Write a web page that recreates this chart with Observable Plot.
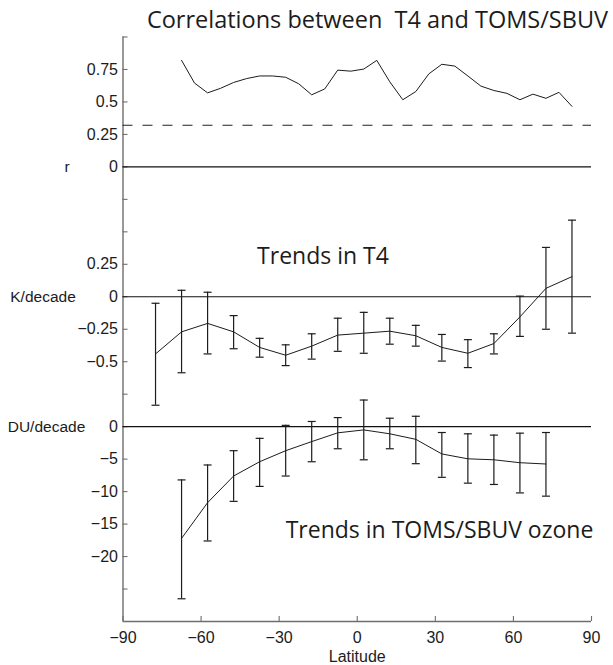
<!DOCTYPE html>
<html>
<head>
<meta charset="utf-8">
<script src="https://cdn.jsdelivr.net/npm/d3@7"></script>
<script src="https://cdn.jsdelivr.net/npm/@observablehq/plot@0.6"></script>
<style>
  html, body { margin: 0; padding: 0; background: #fff; }
  #chart svg { display: block; }
</style>
</head>
<body>
<div id="chart"></div>
<script>
// ---------------- Data ----------------
// Panel 1: correlations between T4 and TOMS/SBUV
const corrLat = [-67.5, -62.5, -57.5, -52.5, -47.5, -42.5, -37.5, -32.5, -27.5, -22.5, -17.5, -12.5, -7.5, -2.5, 2.5, 7.5, 12.5, 17.5, 22.5, 27.5, 32.5, 37.5, 42.5, 47.5, 52.5, 57.5, 62.5, 67.5, 72.5, 77.5, 82.5];
const corrR = [0.82, 0.645, 0.57, 0.605, 0.65, 0.68, 0.70, 0.70, 0.69, 0.64, 0.555, 0.60, 0.745, 0.737, 0.753, 0.82, 0.655, 0.517, 0.58, 0.716, 0.79, 0.776, 0.70, 0.622, 0.588, 0.566, 0.517, 0.56, 0.528, 0.574, 0.466];
const corrSignificance = 0.32;

// Panel 2: trends in T4 (K/decade) with error bars
const t4Lat = [-77.5, -67.5, -57.5, -47.5, -37.5, -27.5, -17.5, -7.5, 2.5, 12.5, 22.5, 32.5, 42.5, 52.5, 62.5, 72.5, 82.5];
const t4Trend = [-0.44, -0.27, -0.205, -0.27, -0.39, -0.45, -0.38, -0.295, -0.28, -0.265, -0.30, -0.39, -0.435, -0.36, -0.155, 0.065, 0.155];
const t4High = [-0.05, 0.05, 0.035, -0.145, -0.32, -0.37, -0.285, -0.165, -0.12, -0.165, -0.22, -0.29, -0.33, -0.285, 0.005, 0.38, 0.59];
const t4Low = [-0.835, -0.585, -0.44, -0.40, -0.465, -0.53, -0.48, -0.42, -0.435, -0.365, -0.38, -0.495, -0.545, -0.44, -0.305, -0.25, -0.28];

// Panel 3: trends in TOMS/SBUV ozone (DU/decade) with error bars
const ozLat = [-67.5, -57.5, -47.5, -37.5, -27.5, -17.5, -7.5, 2.5, 12.5, 22.5, 32.5, 42.5, 52.5, 62.5, 72.5];
const ozTrend = [-17.2, -11.7, -7.6, -5.4, -3.7, -2.3, -0.95, -0.5, -1.1, -1.95, -4.2, -4.95, -5.1, -5.55, -5.75];
const ozHigh = [-8.2, -5.9, -3.7, -1.8, 0.2, 0.8, 1.4, 4.1, 1.3, 1.6, -0.9, -1.1, -1.3, -1.0, -0.9];
const ozLow = [-26.5, -17.6, -11.5, -9.2, -7.6, -5.4, -3.4, -5.1, -3.4, -5.7, -7.8, -8.7, -8.9, -10.2, -10.7];

// Tick values and labels (per panel, in panel units)
const rTicks = [1, 0.75, 0.5, 0.25, 0, -0.25, -0.5];
const rTickLabels = [[0.75, "0.75"], [0.5, "0.5"], [0.25, "0.25"], [0, "0"]];
const kTicks = [0.25, 0, -0.25, -0.5, -0.75];
const kTickLabels = [[0.25, "0.25"], [0, "0"], [-0.25, "\u22120.25"], [-0.5, "\u22120.5"]];
const duTicks = [0, -5, -10, -15, -20, -25];
const duTickLabels = [[0, "0"], [-5, "\u22125"], [-10, "\u221210"], [-15, "\u221215"], [-20, "\u221220"]];
const latTicks = [-90, -60, -30, 0, 30, 60, 90];
const latTickLabels = ["\u221290", "\u221260", "\u221230", "0", "30", "60", "90"];

const titleText = "Correlations between  T4 and TOMS/SBUV";
const t4Title = "Trends in T4";
const ozTitle = "Trends in TOMS/SBUV ozone";
const unitLabels = ["r", "K/decade", "DU/decade"];
const xLabel = "Latitude";

// ---------------- Shared stacked y coordinate ----------------
// The three panels share one vertical axis; each panel's values are mapped
// onto it with an offset and a unit factor.
const panel = {
  r:  {offset: 0,  factor: 1},
  k:  {offset: -1, factor: 1},
  du: {offset: -2, factor: 1 / 20}
};
const Y = (p, v) => panel[p].offset + v * panel[p].factor;
const yDomain = [-3.5, 1];

const corr = corrLat.map((lat, i) => ({lat, y: Y("r", corrR[i])}));
const t4 = t4Lat.map((lat, i) => ({lat, y: Y("k", t4Trend[i]), hi: Y("k", t4High[i]), lo: Y("k", t4Low[i])}));
const oz = ozLat.map((lat, i) => ({lat, y: Y("du", ozTrend[i]), hi: Y("du", ozHigh[i]), lo: Y("du", ozLow[i])}));

const allTicks = [
  ...rTicks.map(v => Y("r", v)),
  ...kTicks.map(v => Y("k", v)),
  ...duTicks.map(v => Y("du", v))
];
const tickLabelRows = [
  ...rTickLabels.map(([v, label]) => ({y: Y("r", v), label})),
  ...kTickLabels.map(([v, label]) => ({y: Y("k", v), label})),
  ...duTickLabels.map(([v, label]) => ({y: Y("du", v), label}))
];
const zeroLines = [Y("r", 0), Y("k", 0), Y("du", 0)];
const latLabelRows = latTicks.map((lat, i) => ({lat, label: latTickLabels[i]}));

const capSymbol = {draw(ctx) { ctx.moveTo(-4, 0); ctx.lineTo(4, 0); }};

const axisGray = "#6e6e6e";
const ink = "#1c1c1c";
const tickFont = "Liberation Sans, Arial, sans-serif";
const titleFont = "Open Sans, Noto Sans, sans-serif";

const chart = Plot.plot({
  width: 613,
  height: 665,
  marginLeft: 122.5,
  marginRight: 22,
  marginTop: 36.5,
  marginBottom: 44,
  style: {background: "#fff", fontFamily: tickFont, color: ink},
  x: {domain: [-90, 90]},
  y: {domain: yDomain},
  marks: [
    // axis lines
    Plot.ruleX([-90], {stroke: axisGray, strokeWidth: 1.4}),
    Plot.ruleY([yDomain[0]], {stroke: axisGray, strokeWidth: 1.4}),
    // inward ticks
    Plot.axisY({ticks: allTicks, tickSize: 5, dx: 5, fill: "none", stroke: axisGray, strokeWidth: 1.1, label: null}),
    Plot.axisX({ticks: latTicks, tickSize: 5, dy: -5, fill: "none", stroke: axisGray, strokeWidth: 1.1, label: null}),
    // tick labels
    Plot.text(tickLabelRows, {y: "y", text: "label", frameAnchor: "left", textAnchor: "end", dx: -5, fontSize: 16, fill: ink}),
    Plot.text(latLabelRows, {x: "lat", text: "label", frameAnchor: "bottom", lineAnchor: "middle", dy: 16, fontSize: 16, fill: ink}),
    Plot.text([xLabel], {frameAnchor: "bottom", lineAnchor: "middle", dy: 35, fontSize: 16, fill: ink}),
    // unit labels
    Plot.text([unitLabels[0]], {y: () => Y("r", 0), frameAnchor: "left", textAnchor: "middle", dx: -56, fontSize: 15.5, fill: ink}),
    Plot.text([unitLabels[1]], {y: () => Y("k", 0), frameAnchor: "left", textAnchor: "middle", dx: -80, fontSize: 15.5, fill: ink}),
    Plot.text([unitLabels[2]], {y: () => Y("du", 0), frameAnchor: "left", textAnchor: "middle", dx: -76.5, fontSize: 15.5, fill: ink}),
    // reference lines
    Plot.ruleY(zeroLines, {stroke: "#111", strokeWidth: 1.1}),
    Plot.ruleY([Y("r", corrSignificance)], {stroke: "#222", strokeWidth: 1.1, strokeDasharray: "10,10"}),
    // panel 1
    Plot.line(corr, {x: "lat", y: "y", stroke: ink, strokeWidth: 1}),
    // panel 2
    Plot.ruleX(t4, {x: "lat", y1: "lo", y2: "hi", stroke: ink, strokeWidth: 1.2}),
    Plot.dot(t4, {x: "lat", y: "hi", symbol: capSymbol, stroke: ink, strokeWidth: 1.2, fill: "none"}),
    Plot.dot(t4, {x: "lat", y: "lo", symbol: capSymbol, stroke: ink, strokeWidth: 1.2, fill: "none"}),
    Plot.line(t4, {x: "lat", y: "y", stroke: ink, strokeWidth: 1}),
    // panel 3
    Plot.ruleX(oz, {x: "lat", y1: "lo", y2: "hi", stroke: ink, strokeWidth: 1.2}),
    Plot.dot(oz, {x: "lat", y: "hi", symbol: capSymbol, stroke: ink, strokeWidth: 1.2, fill: "none"}),
    Plot.dot(oz, {x: "lat", y: "lo", symbol: capSymbol, stroke: ink, strokeWidth: 1.2, fill: "none"}),
    Plot.line(oz, {x: "lat", y: "y", stroke: ink, strokeWidth: 1}),
    // titles
    Plot.text([titleText], {frameAnchor: "top-left", dx: 254.5, dy: -16.5, textAnchor: "middle", lineAnchor: "middle", fontFamily: titleFont, fontSize: 23.5, fill: ink}),
    Plot.text([t4Title], {frameAnchor: "top-left", dx: 200, dy: 219.5, textAnchor: "middle", lineAnchor: "middle", fontFamily: titleFont, fontSize: 23, fill: ink}),
    Plot.text([ozTitle], {frameAnchor: "top-left", dx: 316.5, dy: 494, textAnchor: "middle", lineAnchor: "middle", fontFamily: titleFont, fontSize: 23, fill: ink})
  ]
});
document.getElementById("chart").appendChild(chart);
</script>
</body>
</html>
